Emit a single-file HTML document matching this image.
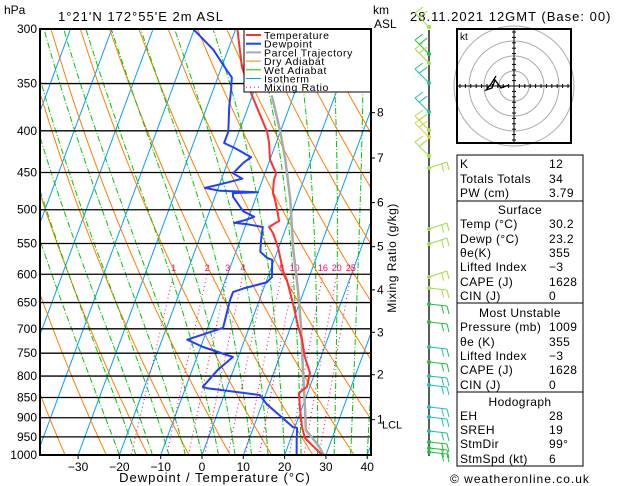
<!DOCTYPE html>
<html><head><meta charset="utf-8"><style>
body{margin:0;background:#fff;}
svg{display:block;font-family:"Liberation Sans","DejaVu Sans",sans-serif;}
</style></head><body>
<svg id="c" width="629" height="486" viewBox="0 0 629 486" xmlns="http://www.w3.org/2000/svg">
<defs><clipPath id="pc"><rect x="40" y="29" width="331" height="426"/></clipPath></defs>
<rect width="629" height="486" fill="#fff"/>
<g id="bg" clip-path="url(#pc)"></g>
<g id="iso"></g>
<g id="series" clip-path="url(#pc)"></g>
<text x="4" y="14" font-size="12">hPa</text>
<text x="58" y="21" font-size="13" letter-spacing="1">1°21'N 172°55'E 2m ASL</text>
<text x="373" y="14" font-size="12">km</text>
<text x="374" y="28" font-size="12">ASL</text>
<text x="410" y="21" font-size="13" letter-spacing="1">28.11.2021 12GMT (Base: 00)</text>
<g id="yax"></g>
<g id="xax"></g>
<g id="kmax"></g>
<text x="215" y="482" font-size="13" letter-spacing="1" text-anchor="middle">Dewpoint / Temperature (°C)</text>
<text transform="translate(396,258) rotate(-90)" font-size="12" letter-spacing="0.5" text-anchor="middle">Mixing Ratio (g/kg)</text>
<g id="legend"></g>
<rect x="40" y="29" width="331" height="426" fill="none" stroke="#000" stroke-width="2"/>
<g id="wind"></g>
<g id="hodo"></g>
<g id="tbl"></g>
<text x="450" y="483" font-size="12" letter-spacing="1">© weatheronline.co.uk</text>
</svg>
<script>
// ---- data ----
const tempP=[300,334,362,401,414,434,451,460,477,486,500,516,525,534,557,593,610,651,696,722,758,793,825,839,880,924,953,980,1000,1009];
const tempT=[-29.6,-25.1,-20.1,-13.2,-11.7,-10.0,-7.3,-7.2,-6.3,-5.2,-3.8,-2.3,-4.2,-2.7,-0.1,3.0,4.9,8.4,11.8,13.9,16.1,18.8,19.3,17.9,19.7,21.7,23.4,26.7,29.1,30.2];
const dewP=[300,318,337,344,356,374,401,414,420,431,438,451,458,466,470,474,476,477,482,502,510,515,519,521,525,544,563,573,576,605,614,624,631,646,698,722,737,758,786,825,828,844,866,924,926,959,1009];
const dewT=[-40.3,-33.6,-28.5,-26.6,-25.7,-24.6,-22.6,-22.6,-19.5,-14.8,-16.2,-17.7,-15.0,-20.3,-23.2,-19.3,-10.0,-16.0,-15.6,-11.9,-8.7,-10.7,-13.0,-9.6,-5.7,-5.0,-4.1,-1.9,-0.5,1.0,0.2,-4.6,-7.1,-7.1,-6.3,-13.9,-9.4,-1.3,-3.8,-5.9,-4.7,8.6,11.1,19.5,20.6,21.6,23.2];
const parcelP=[1009,972,932,880,786,696,628,557,486,434,401,362];
const parcelT=[30.2,27.2,22.9,20.9,16.8,12.5,8.5,3.5,-1.5,-6.3,-10.0,-15.3];
const pLevels=[300,350,400,450,500,550,600,650,700,750,800,850,900,950,1000];
const tTicks=[-30,-20,-10,0,10,20,30,40];
const kmTicks=[1,2,3,4,5,6,7,8];
const kmP=[905,797,707,627,555,490,432,380];
const mixRatios=[1,2,3,4,6,8,10,16,20,25];
const mixLabels=['1','2','3','4','','8','10','16','20','25'];
// ---- axes ----
const NS='http://www.w3.org/2000/svg';
function yP(p){return 29+Math.log(p/300)/Math.log(1000/300)*426;}
function xT(t,p){return 202+4.13*t+0.37*(455-yP(p));}
function mk(tag,attrs,parent){const e=document.createElementNS(NS,tag);for(const k in attrs)e.setAttribute(k,attrs[k]);parent.appendChild(e);return e;}
const bg=document.getElementById('bg');
function pathFrom(fn,p0,p1,n){let d='';for(let i=0;i<=n;i++){const p=p0+(p1-p0)*i/n;const t=fn(p);d+=(i?'L':'M')+xT(t,p).toFixed(1)+','+yP(p).toFixed(1);}return d;}
for(let t=-110;t<=40;t+=10){const e=mk('line',{x1:xT(t,1000),y1:455,x2:xT(t,300),y2:29,stroke:'#00a0ff','stroke-width':1},bg);
}
for(let th=230;th<=480;th+=10){const e=mk('path',{d:pathFrom(p=>th*Math.pow(p/1000,0.286)-273.15,300,1000,30),fill:'none',stroke:'#ff8000','stroke-width':1},bg);
}
function es(t){return 6.112*Math.exp(17.67*t/(t+243.5));}
function moistLapse(t,p){const T=t+273.15;const ws=0.622*es(t)/(p-es(t));const L=2.501e6,Rd=287,cp=1005;
return (Rd*T+L*ws)/(cp+L*L*ws*0.622/(Rd*T*T))/p;}
for(let tw=-20;tw<=40;tw+=4){let t=tw,p=1000,d='M'+xT(t,p).toFixed(1)+','+yP(p).toFixed(1);
while(p>300){const dp=-10;t+=moistLapse(t,p)*dp;p+=dp;d+='L'+xT(t,p).toFixed(1)+','+yP(p).toFixed(1);}
const e=mk('path',{d:d,fill:'none',stroke:'#00c800','stroke-width':1,'stroke-dasharray':'6,2,1,2'},bg);
}
function tdW(w,p){const e=w*p/(622+w);const l=Math.log(e/6.112);return 243.5*l/(17.67-l);}
mixRatios.forEach((w,i)=>{const e=mk('path',{d:pathFrom(p=>tdW(w,p),600,1000,10),fill:'none',stroke:'#ff0080','stroke-width':1,'stroke-dasharray':'1,3'},bg);

if(mixLabels[i]){const tx=mk('text',{x:xT(tdW(w,600),600),y:271,'font-size':9,fill:'#ff0080','text-anchor':'middle'},bg);tx.textContent=mixLabels[i];
}});
const iso=document.getElementById('iso'),yax=document.getElementById('yax');
pLevels.forEach(p=>{const y=yP(p);const l=mk('line',{x1:40,y1:y,x2:371,y2:y,stroke:'#000','stroke-width':1.3},iso);

const t=mk('text',{x:37,y:y+4,'font-size':12,'text-anchor':'end'},yax);t.textContent=p;
});
const xax=document.getElementById('xax');
tTicks.forEach(t=>{const x=xT(t,1000);mk('line',{x1:x,y1:455,x2:x,y2:459,stroke:'#000'},xax);
const tx=mk('text',{x:x,y:471,'font-size':12,'text-anchor':'middle'},xax);tx.textContent=(t<0?'−':'')+Math.abs(t);
});
const kmax=document.getElementById('kmax');
kmTicks.forEach((k,i)=>{const y=yP(kmP[i]);mk('line',{x1:371,y1:y,x2:375,y2:y,stroke:'#000'},kmax);
const tx=mk('text',{x:377,y:y+4,'font-size':12},kmax);tx.textContent=k;
});
{const tx=mk('text',{x:382,y:yP(910)+7,'font-size':11},kmax);tx.textContent='LCL';
}
const ser=document.getElementById('series');
function line(P,T,col,w,name){let d='';P.forEach((p,i)=>{d+=(i?'L':'M')+xT(T[i],p).toFixed(1)+','+yP(p).toFixed(1);});
const e=mk('path',{d:d,fill:'none',stroke:col,'stroke-width':w,'stroke-linejoin':'round'},ser);
}
line(parcelP,parcelT,'#aaaaaa',2.5,'parcel-trajectory-line');
line(dewP,dewT,'#2040ff',2,'dewpoint-line');
line(tempP,tempT,'#ff3030',2,'temperature-line');
const lg=document.getElementById('legend');
mk('rect',{x:244,y:29,width:127,height:63,fill:'#fff',stroke:'#000','stroke-width':1},lg);
const legItems=[['Temperature','#ff3030',2,''],['Dewpoint','#2040ff',2,''],['Parcel Trajectory','#aaaaaa',2,''],['Dry Adiabat','#ff8000',1,''],['Wet Adiabat','#00c800',1,''],['Isotherm','#00a0ff',1,''],['Mixing Ratio','#ff0080',1,'1,3']];
legItems.forEach((it,i)=>{const y=35+i*8.7;mk('line',{x1:246,y1:y,x2:261,y2:y,stroke:it[1],'stroke-width':it[2],'stroke-dasharray':it[3]},lg);
const t=mk('text',{x:264,y:y+4,'font-size':10.5,'letter-spacing':0.6},lg);t.textContent=it[0];
});
const wd=document.getElementById('wind');
mk('line',{x1:429,y1:30,x2:429,y2:456,stroke:'#000','stroke-width':1.3},wd);
const barbY=[27,54,63,83,112,130,137,156,168,229,244,277,288,304,322,347,362,376,385,407,417,431,442,448,452];
const barbC=['#a0e040','#20c040','#a0e040','#20c0a0','#20c0a0','#a0e040','#e0d040','#a0e040','#a0e040','#a0e040','#a0e040','#a0e040','#a0e040','#20c040','#20c040','#20c0a0','#20c040','#20c0a0','#20c0c0','#20c0c0','#20c0c0','#20c0a0','#20c040','#20c040','#20c040'];
barbY.forEach((y,i)=>{const c=barbC[i];const g=mk('g',{},wd);
const up=i<8;const dx=up?-14:18, dy=up?-14:(i<12?-6:2);
mk('line',{x1:429,y1:y,x2:429+dx,y2:y+dy,stroke:c,'stroke-width':1},g);
mk('line',{x1:429+dx,y1:y+dy,x2:429+dx+(up?8:2),y2:y+dy+(up?-6:8),stroke:c,'stroke-width':1},g);
mk('line',{x1:429+dx*0.7,y1:y+dy*0.7,x2:429+dx*0.7+(up?8:2),y2:y+dy*0.7+(up?-6:8),stroke:c,'stroke-width':1},g);
mk('circle',{cx:429,cy:y,r:2,fill:c},g);
});
const hd=document.getElementById('hodo');const cx=514,cy=86;
mk('rect',{x:457,y:29,width:114,height:114,fill:'#fff',stroke:'#000','stroke-width':2},hd);
[15,30,45,60].forEach(r=>mk('circle',{cx:cx,cy:cy,r:r,fill:'none',stroke:'#aaa'},hd));
mk('rect',{x:457,y:29,width:114,height:114,fill:'none',stroke:'#000','stroke-width':2},hd);
mk('line',{x1:458,y1:cy,x2:570,y2:cy,stroke:'#000'},hd);mk('line',{x1:cx,y1:30,x2:cx,y2:142,stroke:'#000'},hd);
for(let i=-10;i<=10;i++){if(!i)continue;mk('line',{x1:cx+i*5.4,y1:cy-2,x2:cx+i*5.4,y2:cy+2,stroke:'#000'},hd);mk('line',{x1:cx-2,y1:cy+i*5.4,x2:cx+2,y2:cy+i*5.4,stroke:'#000'},hd);}
mk('path',{d:'M509,85 L501,88 L495,80 L492,88 L486,90 L491,84 L496,76',fill:'none',stroke:'#000','stroke-width':1.3},hd);
{const t=mk('text',{x:460,y:40,'font-size':10},hd);t.textContent='kt';}
const tb=document.getElementById('tbl');
[[155,201],[201,303],[303,392],[392,466]].forEach(b=>mk('rect',{x:457,y:b[0],width:126,height:b[1]-b[0],fill:'none',stroke:'#000','stroke-width':1},tb));
function row(y,a,b){const t=mk('text',{x:460,y:y,'font-size':12,'letter-spacing':0.4},tb);t.textContent=a;
const v=mk('text',{x:549,y:y,'font-size':12,'letter-spacing':0.4},tb);v.textContent=b;}
function hdr(y,a){const t=mk('text',{x:520,y:y,'font-size':12,'letter-spacing':0.4,'text-anchor':'middle'},tb);t.textContent=a;}
row(168,'K','12');row(183,'Totals Totals','34');row(197,'PW (cm)','3.79');
hdr(214,'Surface');row(228,'Temp (°C)','30.2');row(243,'Dewp (°C)','23.2');row(257,'θe(K)','355');row(271,'Lifted Index','−3');row(286,'CAPE (J)','1628');row(300,'CIN (J)','0');
hdr(317,'Most Unstable');row(331,'Pressure (mb)','1009');row(346,'θe (K)','355');row(360,'Lifted Index','−3');row(374,'CAPE (J)','1628');row(389,'CIN (J)','0');
hdr(406,'Hodograph');row(420,'EH','28');row(434,'SREH','19');row(448,'StmDir','99°');row(463,'StmSpd (kt)','6');
</script>
</body></html>
